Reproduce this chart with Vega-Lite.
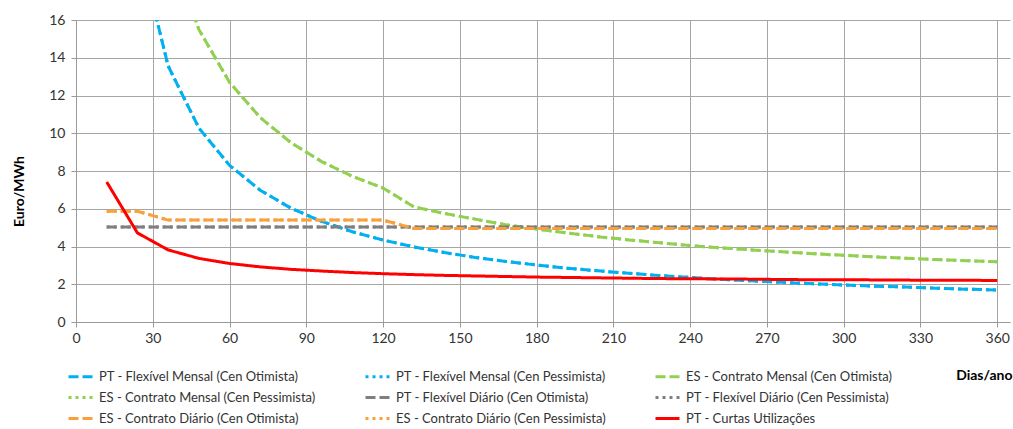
{
  "$schema": "https://vega.github.io/schema/vega-lite/v6.json",
  "width": 934,
  "height": 302,
  "autosize": "none",
  "padding": {"left": 76, "top": 20, "right": 3, "bottom": 107},
  "background": "white",
  "config": {"view": {"stroke": null}, "font": "Lato"},
  "data": {
    "values": [
      {"d": 12, "bo": 40, "bp": 40, "go": 57.5, "gp": 57.5, "ao": 5.03, "ap": 5.03, "oo": 5.87, "op": 5.87, "r": 7.42},
      {"d": 24, "bo": 20.2, "bp": 20.2, "go": 29.5, "gp": 29.5, "ao": 5.03, "ap": 5.03, "oo": 5.87, "op": 5.87, "r": 4.72},
      {"d": 36, "bo": 13.57, "bp": 13.57, "go": 20.17, "gp": 20.17, "ao": 5.03, "ap": 5.03, "oo": 5.4, "op": 5.4, "r": 3.82},
      {"d": 48, "bo": 10.28, "bp": 10.28, "go": 15.5, "gp": 15.5, "ao": 5.03, "ap": 5.03, "oo": 5.4, "op": 5.4, "r": 3.37},
      {"d": 60, "bo": 8.3, "bp": 8.3, "go": 12.7, "gp": 12.7, "ao": 5.03, "ap": 5.03, "oo": 5.4, "op": 5.4, "r": 3.1},
      {"d": 72, "bo": 6.98, "bp": 6.98, "go": 10.83, "gp": 10.83, "ao": 5.03, "ap": 5.03, "oo": 5.4, "op": 5.4, "r": 2.92},
      {"d": 84, "bo": 6.03, "bp": 6.03, "go": 9.5, "gp": 9.5, "ao": 5.03, "ap": 5.03, "oo": 5.4, "op": 5.4, "r": 2.79},
      {"d": 96, "bo": 5.33, "bp": 5.33, "go": 8.5, "gp": 8.5, "ao": 5.03, "ap": 5.03, "oo": 5.4, "op": 5.4, "r": 2.7},
      {"d": 108, "bo": 4.78, "bp": 4.78, "go": 7.72, "gp": 7.72, "ao": 5.03, "ap": 5.03, "oo": 5.4, "op": 5.4, "r": 2.62},
      {"d": 120, "bo": 4.34, "bp": 4.34, "go": 7.1, "gp": 7.1, "ao": 5.03, "ap": 5.03, "oo": 5.4, "op": 5.4, "r": 2.56},
      {"d": 132, "bo": 3.98, "bp": 3.98, "go": 6.1, "gp": 6.1, "ao": 5.03, "ap": 5.03, "oo": 4.96, "op": 4.96, "r": 2.51},
      {"d": 144, "bo": 3.68, "bp": 3.68, "go": 5.75, "gp": 5.75, "ao": 5.03, "ap": 5.03, "oo": 4.96, "op": 4.96, "r": 2.47},
      {"d": 156, "bo": 3.42, "bp": 3.42, "go": 5.45, "gp": 5.45, "ao": 5.03, "ap": 5.03, "oo": 4.96, "op": 4.96, "r": 2.44},
      {"d": 168, "bo": 3.21, "bp": 3.21, "go": 5.15, "gp": 5.15, "ao": 5.03, "ap": 5.03, "oo": 4.96, "op": 4.96, "r": 2.41},
      {"d": 180, "bo": 3.02, "bp": 3.02, "go": 4.92, "gp": 4.92, "ao": 5.03, "ap": 5.03, "oo": 4.96, "op": 4.96, "r": 2.38},
      {"d": 192, "bo": 2.85, "bp": 2.85, "go": 4.72, "gp": 4.72, "ao": 5.03, "ap": 5.03, "oo": 4.96, "op": 4.96, "r": 2.36},
      {"d": 204, "bo": 2.71, "bp": 2.71, "go": 4.52, "gp": 4.52, "ao": 5.03, "ap": 5.03, "oo": 4.96, "op": 4.96, "r": 2.34},
      {"d": 216, "bo": 2.58, "bp": 2.58, "go": 4.35, "gp": 4.35, "ao": 5.03, "ap": 5.03, "oo": 4.96, "op": 4.96, "r": 2.32},
      {"d": 228, "bo": 2.46, "bp": 2.46, "go": 4.2, "gp": 4.2, "ao": 5.03, "ap": 5.03, "oo": 4.96, "op": 4.96, "r": 2.3},
      {"d": 240, "bo": 2.36, "bp": 2.36, "go": 4.05, "gp": 4.05, "ao": 5.03, "ap": 5.03, "oo": 4.96, "op": 4.96, "r": 2.29},
      {"d": 252, "bo": 2.26, "bp": 2.26, "go": 3.93, "gp": 3.93, "ao": 5.03, "ap": 5.03, "oo": 4.96, "op": 4.96, "r": 2.28},
      {"d": 264, "bo": 2.18, "bp": 2.18, "go": 3.82, "gp": 3.82, "ao": 5.03, "ap": 5.03, "oo": 4.96, "op": 4.96, "r": 2.27},
      {"d": 276, "bo": 2.1, "bp": 2.1, "go": 3.72, "gp": 3.72, "ao": 5.03, "ap": 5.03, "oo": 4.96, "op": 4.96, "r": 2.25},
      {"d": 288, "bo": 2.03, "bp": 2.03, "go": 3.62, "gp": 3.62, "ao": 5.03, "ap": 5.03, "oo": 4.96, "op": 4.96, "r": 2.24},
      {"d": 300, "bo": 1.96, "bp": 1.96, "go": 3.53, "gp": 3.53, "ao": 5.03, "ap": 5.03, "oo": 4.96, "op": 4.96, "r": 2.24},
      {"d": 312, "bo": 1.9, "bp": 1.9, "go": 3.45, "gp": 3.45, "ao": 5.03, "ap": 5.03, "oo": 4.96, "op": 4.96, "r": 2.23},
      {"d": 324, "bo": 1.85, "bp": 1.85, "go": 3.38, "gp": 3.38, "ao": 5.03, "ap": 5.03, "oo": 4.96, "op": 4.96, "r": 2.22},
      {"d": 336, "bo": 1.79, "bp": 1.79, "go": 3.31, "gp": 3.31, "ao": 5.03, "ap": 5.03, "oo": 4.96, "op": 4.96, "r": 2.21},
      {"d": 348, "bo": 1.74, "bp": 1.74, "go": 3.25, "gp": 3.25, "ao": 5.03, "ap": 5.03, "oo": 4.96, "op": 4.96, "r": 2.21},
      {"d": 360, "bo": 1.7, "bp": 1.7, "go": 3.19, "gp": 3.19, "ao": 5.03, "ap": 5.03, "oo": 4.96, "op": 4.96, "r": 2.2}
    ]
  },
  "transform": [
    {"fold": ["bo", "bp", "go", "gp", "ao", "ap", "oo", "op", "r"], "as": ["k", "v"]},
    {"lookup": "k", "from": {"data": {"values": [
      {"k": "bo", "serie": "PT - Flexível Mensal (Cen Otimista)"},
      {"k": "bp", "serie": "PT - Flexível Mensal (Cen Pessimista)"},
      {"k": "go", "serie": "ES - Contrato Mensal (Cen Otimista)"},
      {"k": "gp", "serie": "ES - Contrato Mensal (Cen Pessimista)"},
      {"k": "ao", "serie": "PT - Flexível Diário (Cen Otimista)"},
      {"k": "ap", "serie": "PT - Flexível Diário (Cen Pessimista)"},
      {"k": "oo", "serie": "ES - Contrato Diário (Cen Otimista)"},
      {"k": "op", "serie": "ES - Contrato Diário (Cen Pessimista)"},
      {"k": "r", "serie": "PT - Curtas Utilizações"}
    ]}, "key": "k", "fields": ["serie"]}}
  ],
  "mark": {"type": "line", "clip": true},
  "encoding": {
    "x": {
      "field": "d", "type": "quantitative",
      "scale": {"domain": [0, 365], "nice": false, "zero": false},
      "axis": {
        "values": [0, 30, 60, 90, 120, 150, 180, 210, 240, 270, 300, 330, 360],
        "title": "Dias/ano", "titleX": 936, "titleY": 53, "titleAlign": "right", "titleAnchor": null,
        "titleBaseline": "middle", "titleFontSize": 14, "titleFontWeight": "bold", "titleColor": "#000",
        "labelFontSize": 14, "labelColor": "#333", "labelPadding": 4, "labelFlush": false,
        "tickSize": 5, "tickColor": "#999", "domainColor": "#999", "gridColor": "#a6a6a6", "grid": true
      }
    },
    "y": {
      "field": "v", "type": "quantitative",
      "scale": {"domain": [0, 16], "nice": false},
      "axis": {
        "values": [0, 2, 4, 6, 8, 10, 12, 14, 16],
        "title": "Euro/MWh", "titleX": -57, "titleY": 171, "titleAlign": "center", "titleBaseline": "middle",
        "titleFontSize": 14, "titleFontWeight": "bold", "titleColor": "#000",
        "labelFontSize": 14, "labelColor": "#333", "labelPadding": 6,
        "tickSize": 5, "tickColor": "#999", "domainColor": "#999", "gridColor": "#a6a6a6", "grid": true
      }
    },
    "color": {
      "field": "serie", "type": "nominal",
      "scale": {
        "domain": ["PT - Flexível Mensal (Cen Otimista)", "PT - Flexível Mensal (Cen Pessimista)", "ES - Contrato Mensal (Cen Otimista)", "ES - Contrato Mensal (Cen Pessimista)", "PT - Flexível Diário (Cen Otimista)", "PT - Flexível Diário (Cen Pessimista)", "ES - Contrato Diário (Cen Otimista)", "ES - Contrato Diário (Cen Pessimista)", "PT - Curtas Utilizações"],
        "range": ["#00b0f0", "#00b0f0", "#92d050", "#92d050", "#7f7f7f", "#7f7f7f", "#f9a03c", "#f9a03c", "#ff0000"]
      },
      "legend": {
        "title": null, "orient": "none", "legendX": -9, "legendY": 343, "direction": "horizontal", "columns": 3, "columnPadding": 43, "rowPadding": -2,
        "symbolType": "stroke", "symbolSize": 576, "symbolStrokeWidth": 3, "labelFontSize": 13, "labelOffset": 5,
        "labelColor": "#333", "labelLimit": 0, "padding": 0
      }
    },
    "strokeDash": {
      "field": "serie", "type": "nominal",
      "scale": {
        "domain": ["PT - Flexível Mensal (Cen Otimista)", "PT - Flexível Mensal (Cen Pessimista)", "ES - Contrato Mensal (Cen Otimista)", "ES - Contrato Mensal (Cen Pessimista)", "PT - Flexível Diário (Cen Otimista)", "PT - Flexível Diário (Cen Pessimista)", "ES - Contrato Diário (Cen Otimista)", "ES - Contrato Diário (Cen Pessimista)", "PT - Curtas Utilizações"],
        "range": [[10, 4], [3, 4], [10, 4], [3, 4], [10, 4], [3, 4], [10, 4], [3, 4], [1, 0]]
      },
      "legend": {
        "title": null, "orient": "none", "legendX": -9, "legendY": 343, "direction": "horizontal", "columns": 3, "columnPadding": 43, "rowPadding": -2,
        "symbolType": "stroke", "symbolSize": 576, "symbolStrokeWidth": 3, "labelFontSize": 13, "labelOffset": 5,
        "labelColor": "#333", "labelLimit": 0, "padding": 0
      }
    },
    "strokeWidth": {
      "field": "serie", "type": "nominal",
      "scale": {
        "domain": ["PT - Flexível Mensal (Cen Otimista)", "PT - Flexível Mensal (Cen Pessimista)", "ES - Contrato Mensal (Cen Otimista)", "ES - Contrato Mensal (Cen Pessimista)", "PT - Flexível Diário (Cen Otimista)", "PT - Flexível Diário (Cen Pessimista)", "ES - Contrato Diário (Cen Otimista)", "ES - Contrato Diário (Cen Pessimista)", "PT - Curtas Utilizações"],
        "range": [3, 3, 3, 3, 3, 3, 3, 3, 3.5]
      },
      "legend": null
    }
  }
}
